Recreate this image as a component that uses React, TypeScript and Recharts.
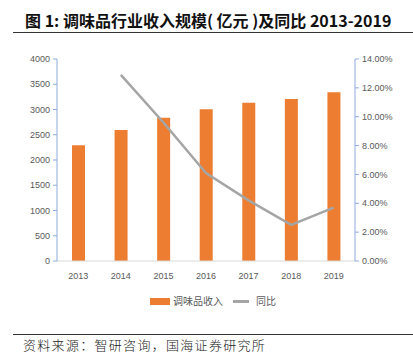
import React from 'react';
import { ComposedChart, Bar, Line, XAxis, YAxis } from 'recharts';

const years = ['2013', '2014', '2015', '2016', '2017', '2018', '2019'];
const revenue = [2290, 2595, 2835, 3005, 3135, 3210, 3340];
const growth: (number | null)[] = [null, 0.129, 0.096, 0.061, 0.042, 0.025, 0.037];
const leftTicks = [0, 500, 1000, 1500, 2000, 2500, 3000, 3500, 4000];
const rightTicks = [0, 0.02, 0.04, 0.06, 0.08, 0.1, 0.12, 0.14];

const data = years.map((y, i) => ({ year: y, revenue: revenue[i], growth: growth[i] }));

const tickStyle = { fontSize: 9, fill: '#595959', fontFamily: 'Liberation Sans, Arial, sans-serif' };
const axisBlue = '#8FAADC';

export default function App() {
  return (
    <div style={{ position: 'absolute', left: 0, top: 0, width: 413, height: 355, background: '#fff', overflow: 'hidden' }}>
      <div style={{ position: 'absolute', left: 25, top: 8, fontSize: 16, fontWeight: 700, fontFamily: '"Noto Sans CJK SC", sans-serif', color: '#111', whiteSpace: 'nowrap', lineHeight: '24px' }}>
        图 1: 调味品行业收入规模( 亿元 )及同比 2013-2019
      </div>
      <div style={{ position: 'absolute', left: 13, top: 32, width: 400, height: 1, background: '#333' }} />
      <ComposedChart width={413} height={355} data={data} margin={{ top: 59, right: 0, bottom: 74, left: 0 }} style={{ position: 'absolute', left: 0, top: 0 }}>
        <XAxis dataKey="year" tick={tickStyle} tickLine={false} axisLine={{ stroke: '#D9D9D9' }} height={20} tickMargin={6} />
        <YAxis yAxisId="left" domain={[0, 4000]} ticks={leftTicks} width={57} tick={tickStyle} axisLine={{ stroke: axisBlue }} tickLine={{ stroke: axisBlue }} tickSize={4} tickMargin={3} interval={0} />
        <YAxis yAxisId="right" orientation="right" domain={[0, 0.14]} ticks={rightTicks} width={58} tick={tickStyle} axisLine={{ stroke: axisBlue }} tickLine={{ stroke: axisBlue }} tickSize={4} tickMargin={3} interval={0} tickFormatter={(v: number) => (v * 100).toFixed(2) + '%'} />
        <Bar yAxisId="left" dataKey="revenue" fill="#ED7D31" barSize={13} isAnimationActive={false} />
        <Line yAxisId="right" dataKey="growth" stroke="#A5A5A5" strokeWidth={2.5} dot={false} isAnimationActive={false} connectNulls={false} />
      </ComposedChart>
      <div style={{ position: 'absolute', left: 150, top: 298, width: 20, height: 7, background: '#ED7D31' }} />
      <div style={{ position: 'absolute', left: 173, top: 294, fontSize: 10, color: '#595959', fontFamily: '"Noto Sans CJK SC", sans-serif', lineHeight: '14px' }}>调味品收入</div>
      <div style={{ position: 'absolute', left: 233, top: 300, width: 16, height: 2.5, background: '#A5A5A5' }} />
      <div style={{ position: 'absolute', left: 256, top: 294, fontSize: 10, color: '#595959', fontFamily: '"Noto Sans CJK SC", sans-serif', lineHeight: '14px' }}>同比</div>
      <div style={{ position: 'absolute', left: 13, top: 334, width: 400, height: 1, background: '#333' }} />
      <div style={{ position: 'absolute', left: 23, top: 337, fontSize: 13, letterSpacing: 1.3, color: '#222', fontFamily: '"Noto Sans CJK SC", sans-serif', fontWeight: 300, lineHeight: '16px', whiteSpace: 'nowrap' }}>
        资料来源：智研咨询，国海证券研究所
      </div>
    </div>
  );
}
